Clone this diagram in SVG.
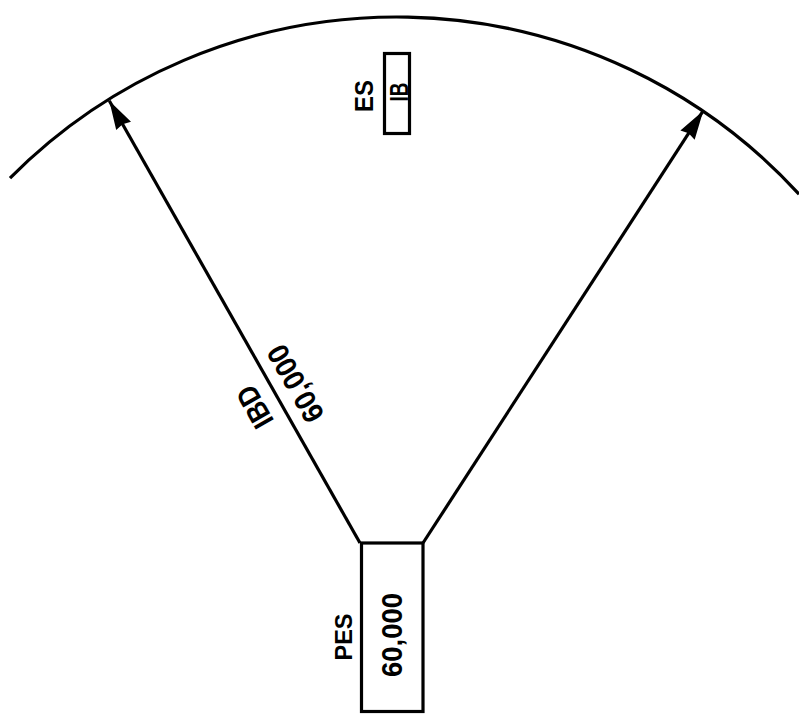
<svg xmlns="http://www.w3.org/2000/svg" width="799" height="716" viewBox="0 0 799 716">
  <style>
    .ln { fill: none; stroke: #000; stroke-width: 3.2; }
    .box { fill: #fff; stroke: #000; stroke-width: 3.2; }
    .t { font-family: "Liberation Sans", Arial, sans-serif; font-weight: bold; fill: #000; text-anchor: middle; }
  </style>
  <defs>
    <marker id="arrow" markerUnits="userSpaceOnUse" viewBox="-31 -10 32 20" markerWidth="32" markerHeight="20" refX="0" refY="0" orient="auto">
      <path d="M0,0 L-29,-8.5 L-27,0 L-29,8.5 Z" fill="#000"/>
    </marker>
  </defs>
  <rect width="799" height="716" fill="#fff"/>
  <g id="boundary">
    <path class="ln" d="M10,178.1 A545,545 0 0,1 799,194.2"/>
  </g>
  <g id="connectors">
    <line class="ln" x1="360" y1="543" x2="109.3" y2="100.7" marker-end="url(#arrow)"/>
    <line class="ln" x1="423" y1="543" x2="703.3" y2="110.7" marker-end="url(#arrow)"/>
    <g id="ibd-label" transform="translate(275.8,394.8) rotate(-119.6)">
      <text class="t" x="0" y="-14" font-size="30" textLength="44" lengthAdjust="spacingAndGlyphs">IBD</text>
      <text class="t" x="0" y="33" font-size="30" textLength="84" lengthAdjust="spacingAndGlyphs">60,000</text>
    </g>
  </g>
  <g id="pes">
    <rect class="box" x="361.5" y="543" width="61.5" height="168.5"/>
    <text class="t" transform="translate(391,635) rotate(-90)" x="0" y="11" font-size="30" textLength="84" lengthAdjust="spacingAndGlyphs">60,000</text>
    <text class="t" transform="translate(343.5,637) rotate(-90)" x="0" y="8.5" font-size="24" textLength="47" lengthAdjust="spacingAndGlyphs">PES</text>
  </g>
  <g id="es">
    <rect class="box" x="384.5" y="53.5" width="25" height="80"/>
    <text class="t" transform="translate(398,92) rotate(-90)" x="0" y="9.5" font-size="26" textLength="19" lengthAdjust="spacingAndGlyphs">IB</text>
    <text class="t" transform="translate(364,96) rotate(-90)" x="0" y="9" font-size="25" textLength="32" lengthAdjust="spacingAndGlyphs">ES</text>
  </g>
</svg>
